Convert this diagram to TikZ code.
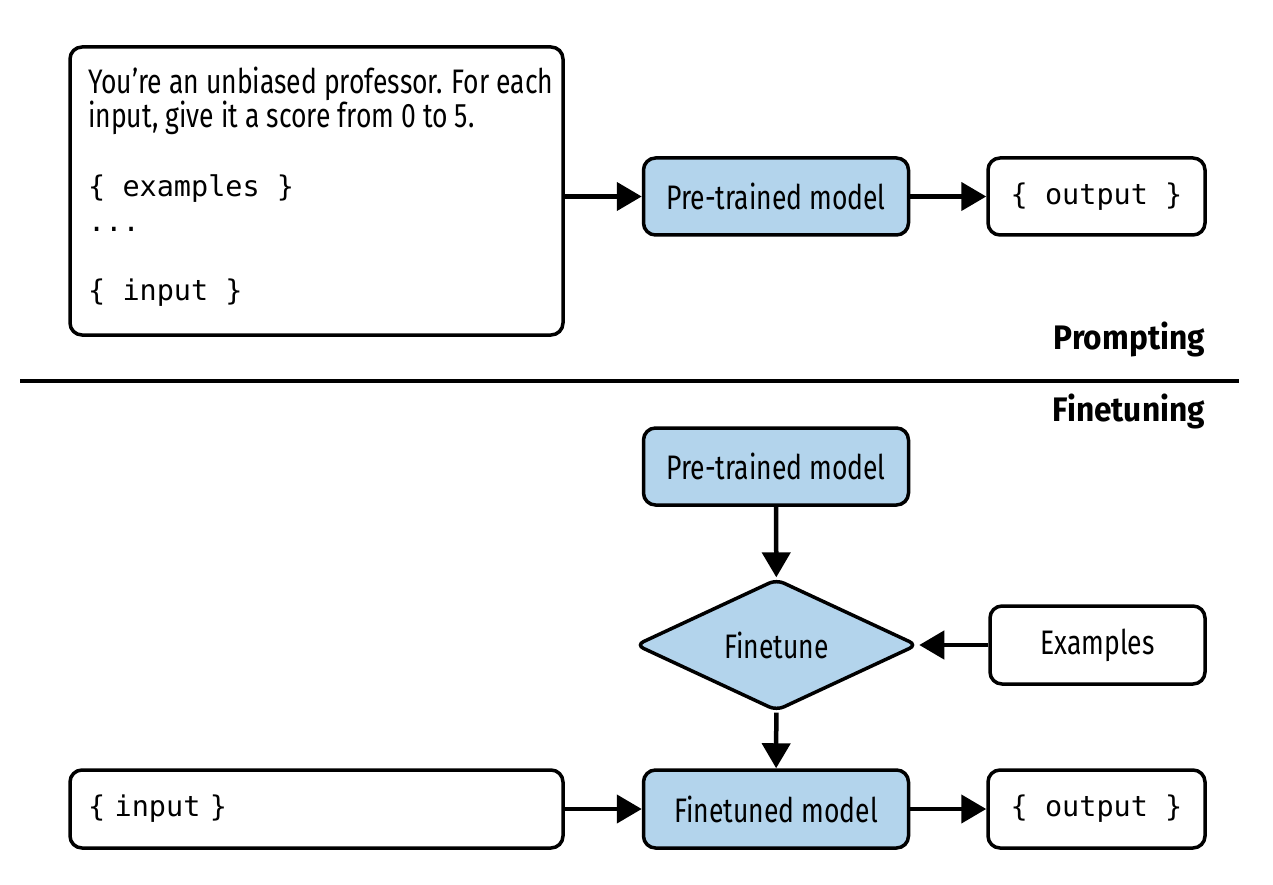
\documentclass[tikz,border=0pt]{standalone}
\usepackage{fontspec}
\setmainfont{Fira Sans}[FakeStretch=0.78]
\newfontfamily\headfam{Fira Sans}[FakeStretch=0.93]
\setmonofont{DejaVu Sans Mono}
\usetikzlibrary{arrows.meta,shapes.geometric}
\definecolor{boxblue}{HTML}{B3D4EC}
\begin{document}
\begin{tikzpicture}[x=1pt,y=-1pt,
  bodyfont/.style={font=\fontsize{34}{38}\selectfont},
  headfont/.style={font=\fontsize{34}{38}\selectfont\headfam\bfseries},
  monofont/.style={font=\fontsize{28.5}{32}\selectfont\ttfamily},
  box/.style={draw,line width=3.5pt,rounded corners=12pt,inner sep=0pt,bodyfont},
  bluebox/.style={box,fill=boxblue,minimum width=265pt,minimum height=77pt},
  whitebox/.style={box,fill=white,minimum width=217pt,minimum height=77pt},
  txt/.style={anchor=base west,inner sep=0pt},
  arr/.style={line width=4.5pt,-{Triangle[length=25pt,width=28pt]}}]
\useasboundingbox (0,0) rectangle (1273,885);
% Prompting
\node[box,minimum width=493pt,minimum height=288pt] (prompt) at (316.5,191) {};
\node[txt,bodyfont] (l1) at (88,94) {You’re an unbiased professor. For each};
\node[txt,bodyfont] (l2) at (88,128) {input, give it a score from 0 to 5.};
\node[txt,monofont] (l3) at (88,197) {\{ examples \}};
\node[txt,monofont] (l4) at (88,232) {...};
\node[txt,monofont] (l5) at (88,300) {\{ input \}};
\node[bluebox] (pt1) at (776,196.5) {Pre-trained model};
\node[whitebox,monofont] (out1) at (1096.5,196.5) {\{ output \}};
\draw[arr] (prompt.east |- pt1.west) -- (pt1.west);
\draw[arr] (pt1) -- (out1);
\node[anchor=base east,inner sep=0pt,headfont] (prompting) at (1205,349) {Prompting};
% divider
\coordinate (la) at (20,381);
\coordinate (lb) at (1239,381);
\draw[line width=3.5pt] (la) -- (lb);
% Finetuning
\node[anchor=base east,inner sep=0pt,headfont] (finetuning) at (1205,421) {Finetuning};
\node[bluebox] (pt2) at (776,466.5) {Pre-trained model};
\node[draw,line width=3.5pt,fill=boxblue,diamond,rounded corners=8pt,inner sep=0pt,
      minimum width=282pt,minimum height=132pt,bodyfont] (ft) at (776.5,645) {Finetune};
\node[whitebox,minimum width=215pt,minimum height=78pt] (ex) at (1097.5,645) {Examples};
\node[bluebox,minimum height=78pt] (fm) at (776,809) {Finetuned model};
\node[box,monofont,minimum width=493pt,minimum height=78pt,text width=457pt,align=left] (in2) at (316.5,809) {\{ input \}};
\node[whitebox,monofont,minimum height=78pt] (out2) at (1096.5,809) {\{ output \}};
\draw[arr] (pt2) -- (ft);
\draw[arr] (ex) -- (ft);
\draw[arr] (ft) -- (fm);
\draw[arr] (in2) -- (fm);
\draw[arr] (fm) -- (out2);
\end{tikzpicture}
\end{document}
